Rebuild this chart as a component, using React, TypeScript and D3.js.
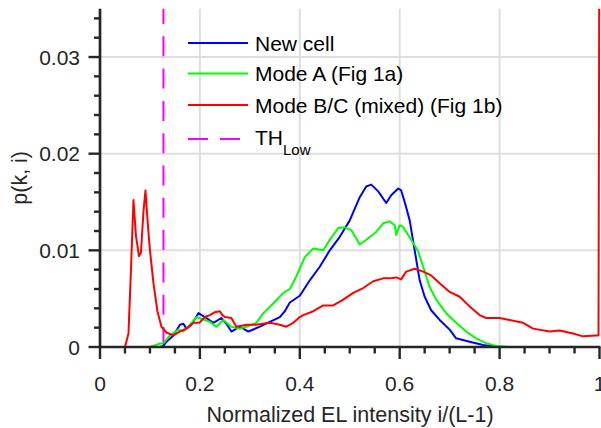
import React from "react";
import * as d3 from "d3";

const newCell: [number, number][] = [
  [0, 0], [0.12, 0], [0.127, 0.0001], [0.133, 0.00055], [0.147, 0.0012], [0.16, 0.0023],
  [0.167, 0.0024], [0.173, 0.0019], [0.183, 0.0023], [0.197, 0.0035], [0.21, 0.0031],
  [0.227, 0.0025], [0.243, 0.003], [0.253, 0.0024], [0.263, 0.0016], [0.28, 0.0021],
  [0.297, 0.0016], [0.32, 0.0021], [0.34, 0.0026], [0.36, 0.0031], [0.37, 0.0037],
  [0.38, 0.0046], [0.4, 0.0053], [0.42, 0.0069], [0.44, 0.0083], [0.46, 0.01],
  [0.48, 0.0114], [0.5, 0.0131], [0.52, 0.0155], [0.533, 0.0166], [0.543, 0.0168],
  [0.557, 0.0161], [0.573, 0.0149], [0.583, 0.0157], [0.597, 0.0164], [0.603, 0.0162],
  [0.61, 0.015], [0.62, 0.0131], [0.63, 0.01], [0.64, 0.0069], [0.65, 0.0052],
  [0.663, 0.0038], [0.68, 0.0028], [0.7, 0.0018], [0.713, 0.0009], [0.74, 0.00055],
  [0.767, 0.0002], [0.793, 0.00003], [0.82, 0], [1.0, 0],
];

const modeA: [number, number][] = [
  [0, 0], [0.1, 0], [0.117, 0.0003], [0.127, 0.0004], [0.14, 0.0012], [0.157, 0.0018],
  [0.167, 0.0016], [0.18, 0.0023], [0.193, 0.0031], [0.21, 0.0028], [0.22, 0.0026],
  [0.233, 0.0021], [0.247, 0.0028], [0.263, 0.0021], [0.28, 0.0019], [0.293, 0.0021],
  [0.313, 0.0025], [0.327, 0.0035], [0.347, 0.0045], [0.367, 0.0056], [0.38, 0.006],
  [0.393, 0.0073], [0.41, 0.0093], [0.427, 0.0102], [0.447, 0.01], [0.46, 0.0111],
  [0.477, 0.0123], [0.49, 0.0124], [0.503, 0.0121], [0.52, 0.0106], [0.533, 0.0111],
  [0.553, 0.0119], [0.567, 0.0128], [0.58, 0.013], [0.59, 0.0126], [0.593, 0.0116],
  [0.6, 0.0126], [0.607, 0.0124], [0.623, 0.0111], [0.637, 0.0099], [0.647, 0.0083],
  [0.66, 0.0062], [0.673, 0.0049], [0.693, 0.0035], [0.713, 0.0025], [0.733, 0.0016],
  [0.753, 0.0009], [0.773, 0.0004], [0.793, 0.0001], [0.82, 0], [1.0, 0],
];

const modeBC: [number, number][] = [
  [0, 0], [0.05, 0], [0.057, 0.0014], [0.062, 0.008], [0.067, 0.0152], [0.072, 0.0115],
  [0.078, 0.0094], [0.082, 0.0098], [0.087, 0.014], [0.091, 0.0162], [0.096, 0.0125],
  [0.1, 0.01], [0.107, 0.0066], [0.115, 0.0037], [0.123, 0.0021], [0.133, 0.0015],
  [0.147, 0.0012], [0.16, 0.0016], [0.173, 0.0019], [0.187, 0.0025], [0.199, 0.0025],
  [0.21, 0.0031], [0.22, 0.0033], [0.23, 0.0036], [0.24, 0.0037], [0.245, 0.0033],
  [0.25, 0.0031], [0.263, 0.003], [0.273, 0.0021], [0.283, 0.0022], [0.293, 0.0023],
  [0.313, 0.0023], [0.34, 0.0025], [0.36, 0.0023], [0.373, 0.0021], [0.387, 0.0025],
  [0.4, 0.0031], [0.407, 0.0033], [0.427, 0.0037], [0.447, 0.0043], [0.467, 0.0043],
  [0.487, 0.0049], [0.507, 0.0056], [0.527, 0.0061], [0.547, 0.0068], [0.567, 0.0071],
  [0.58, 0.0071], [0.593, 0.0072], [0.603, 0.007], [0.613, 0.0078], [0.63, 0.0081],
  [0.647, 0.0078], [0.663, 0.0074], [0.68, 0.0066], [0.7, 0.0057], [0.72, 0.0052],
  [0.74, 0.0042], [0.76, 0.0033], [0.773, 0.003], [0.8, 0.003], [0.82, 0.0028],
  [0.847, 0.0025], [0.867, 0.0019], [0.9, 0.0016], [0.92, 0.0017], [0.947, 0.0014],
  [0.967, 0.0011], [0.993, 0.0012], [0.998, 0.0012], [1.0, 0.05],
];

const thLow = 0.127;
const xTicks = [0, 0.2, 0.4, 0.6, 0.8, 1];
const yTicks = [0, 0.01, 0.02, 0.03];
const legendLabels = ["New cell", "Mode A (Fig 1a)", "Mode B/C (mixed) (Fig 1b)"];
const seriesColors = ["#0000ff", "#00ff00", "#ff0000"];

export default function App() {
  const W = 601, H = 428;
  const left = 100, right = 599.5, top = 8.7, bottom = 347;
  const x = d3.scaleLinear().domain([0, 1]).range([left, right]);
  const y = d3.scaleLinear().domain([0, 0.035]).range([bottom, top]);
  const line = d3.line<[number, number]>().x(d => x(d[0])).y(d => y(d[1]));
  const series = [newCell, modeA, modeBC];
  const minorX = d3.range(0, 1.0001, 0.05);
  const minorY = d3.range(0, 0.0351, 0.002);
  const axisColor = "#262626";
  const font = "'Liberation Sans', Arial, Helvetica, sans-serif";
  const legendY = [43, 73.5, 105, 139];
  return (
    <svg width={W} height={H} style={{ position: "absolute", left: 0, top: 0, background: "#fff" }} fontFamily={font}>
      <defs>
        <clipPath id="plot">
          <rect x={left - 2} y={top} width={right - left + 4} height={bottom - top + 2} />
        </clipPath>
      </defs>
      {/* grid */}
      {xTicks.filter(t => t > 0 && t < 1).map(t => (
        <line key={"gx" + t} x1={x(t)} x2={x(t)} y1={top} y2={bottom} stroke="#dedede" strokeWidth={2} />
      ))}
      {yTicks.filter(t => t > 0).map(t => (
        <line key={"gy" + t} x1={left} x2={right} y1={y(t)} y2={y(t)} stroke="#dedede" strokeWidth={2} />
      ))}
      {/* threshold */}
      <line x1={x(thLow)} x2={x(thLow)} y1={bottom} y2={top} stroke="#ff00ff" strokeWidth={2} strokeDasharray="20,12.3" />
      {/* series */}
      <g clipPath="url(#plot)">
        {series.map((s, i) => (
          <path key={i} d={line(s) || ""} fill="none" stroke={seriesColors[i]} strokeWidth={2} strokeLinejoin="round" />
        ))}
      </g>
      {/* axes */}
      <line x1={left} x2={left} y1={top} y2={bottom + 1.3} stroke={axisColor} strokeWidth={2.7} />
      <line x1={left - 1.3} x2={right + 1} y1={bottom} y2={bottom} stroke={axisColor} strokeWidth={2.7} />
      {minorX.map((t, i) => {
        const major = i % 4 === 0;
        return <line key={"tx" + i} x1={x(t)} x2={x(t)} y1={bottom} y2={bottom + (major ? 12 : 6.5)} stroke={axisColor} strokeWidth={2.4} />;
      })}
      {minorY.map((t, i) => {
        const major = i % 5 === 0;
        return <line key={"ty" + i} x1={left} x2={left - (major ? 11.5 : 6)} y1={y(t)} y2={y(t)} stroke={axisColor} strokeWidth={2.4} />;
      })}
      {xTicks.map(t => (
        <text key={"lx" + t} x={x(t)} y={391} textAnchor="middle" fontSize={21} fill={axisColor}>{d3.format("~g")(t)}</text>
      ))}
      {yTicks.map(t => (
        <text key={"ly" + t} x={80} y={y(t) + 7.5} textAnchor="end" fontSize={21} fill={axisColor}>{d3.format("~g")(t)}</text>
      ))}
      <text x={350} y={422} textAnchor="middle" fontSize={21.5} fill={axisColor}>Normalized EL intensity i/(L-1)</text>
      <text transform={`translate(27,${(top + bottom) / 2}) rotate(-90)`} textAnchor="middle" fontSize={21.5} fill={axisColor}>p(k, i)</text>
      {/* legend */}
      {legendLabels.map((l, i) => (
        <g key={l}>
          <line x1={188} x2={248} y1={legendY[i]} y2={legendY[i]} stroke={seriesColors[i]} strokeWidth={2} />
          <text x={255} y={legendY[i] + 7.7} fontSize={21} fill="#000">{l}</text>
        </g>
      ))}
      <line x1={188} x2={248} y1={legendY[3]} y2={legendY[3]} stroke="#ff00ff" strokeWidth={2} strokeDasharray="20,12" />
      <text x={255} y={legendY[3] + 6} fontSize={21} fill="#000">
        TH<tspan fontSize={15} dy={10}>Low</tspan>
      </text>
    </svg>
  );
}
